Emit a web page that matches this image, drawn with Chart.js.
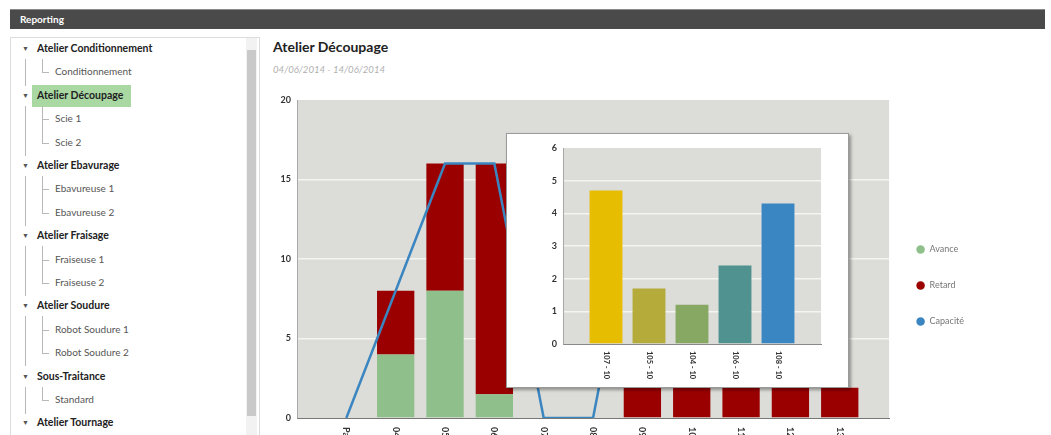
<!DOCTYPE html>
<html>
<head>
<meta charset="utf-8">
<script src="https://cdn.jsdelivr.net/npm/chart.js@4.4.1/dist/chart.umd.min.js"></script>
<style>
  html, body { margin: 0; padding: 0; width: 1051px; height: 435px; overflow: hidden; background: #fff; font-family: Lato, sans-serif; }
  .abs { position: absolute; }
  #header { left: 10px; right: 6px; top: 9px; height: 19px; background: #4a4a4a; border-top: 1px solid #8a8a8a; }
  #header span { position: absolute; left: 10px; top: 3px; color: #fff; font-weight: bold; font-size: 10px; }
  #panel { left: 10px; top: 37px; width: 248px; height: 420px; border: 1px solid #dcdcdc; background: #fff; }
  #scroll { left: 246px; top: 38px; width: 11px; height: 400px; background: #f2f2f2; }
  #thumb { left: 247px; top: 50px; width: 9px; height: 366px; background: #c9c9c9; }
  .grp { position: absolute; left: 37px; font-size: 10.5px; font-weight: bold; color: #222; white-space: nowrap; }
  .itm { position: absolute; left: 55px; font-size: 10px; color: #555; white-space: nowrap; }
  .tri { position: absolute; left: 22px; font-size: 7px; color: #555; }
  .vl { position: absolute; width: 1px; background: #b8b8b8; }
  .hl { position: absolute; height: 1px; background: #b8b8b8; }
  #sel { left: 32px; top: 85px; width: 99px; height: 22px; background: #a9d8a2; }
  #title { left: 273px; top: 38px; font-size: 14px; font-weight: bold; color: #222; }
  #dates { left: 273px; top: 64px; font-size: 9.6px; font-style: italic; color: #b0b0b0; }
  #main { left: 262px; top: 88px; }
  #popup { left: 506px; top: 133px; width: 343px; height: 255px; box-sizing: border-box; border: 1px solid #9a9a9a; background: #fff; box-shadow: 2px 2px 3px rgba(0,0,0,0.35); }
</style>
</head>
<body>
<div id="header" class="abs"><span>Reporting</span></div>
<div id="panel" class="abs"></div>
<div id="scroll" class="abs"></div>
<div id="thumb" class="abs"></div>
<div id="sel" class="abs"></div>
<div id="tree"></div>
<div id="title" class="abs">Atelier Découpage</div>
<div id="dates" class="abs">04/06/2014 - 14/06/2014</div>
<div id="main" class="abs"><canvas id="mainChart" width="712" height="347"></canvas></div>
<div id="popup" class="abs"><canvas id="popChart" width="341" height="253"></canvas></div>

<script>
// tree on the left
const groups = [
  ['Atelier Conditionnement', ['Conditionnement']],
  ['Atelier Découpage', ['Scie 1', 'Scie 2']],
  ['Atelier Ebavurage', ['Ebavureuse 1', 'Ebavureuse 2']],
  ['Atelier Fraisage', ['Fraiseuse 1', 'Fraiseuse 2']],
  ['Atelier Soudure', ['Robot Soudure 1', 'Robot Soudure 2']],
  ['Sous-Traitance', ['Standard']],
  ['Atelier Tournage', []]
];

// main chart data
const days = ['Passé', '04', '05', '06', '07', '08', '09', '10', '11', '12', '13'];
const avance = [0, 4, 8, 1.5, 0, 0, 0, 0, 0, 0, 0];
const retard = [0, 4, 8, 14.5, 0, 0, 1.9, 1.9, 1.9, 1.9, 1.9];
const capacite = [0, 8, 16, 16, 0, 0, 16, 16, 16, 16, 16];
const mainTicks = [0, 5, 10, 15, 20];

// popup chart data
const popLabels = ['107 - 10', '105 - 10', '104 - 10', '106 - 10', '108 - 10'];
const popValues = [4.7, 1.7, 1.2, 2.4, 4.3];
const popTicks = [0, 1, 2, 3, 4, 5, 6];
const popColors = ['#e6bd00', '#b4ab3b', '#86a862', '#4f9290', '#3a86c3'];

// build tree
(function () {
  const tree = document.getElementById('tree');
  let y = 50;
  const step = 23.4;
  groups.forEach(function (g) {
    const gy = y;
    tree.insertAdjacentHTML('beforeend',
      '<div class="tri" style="top:' + (gy - 6) + 'px">&#9660;</div>' +
      '<div class="grp" style="top:' + (gy - 8) + 'px">' + g[0] + '</div>');
    y += step;
    g[1].forEach(function (c) {
      tree.insertAdjacentHTML('beforeend',
        '<div class="hl" style="left:42px;width:7px;top:' + Math.round(y - 1) + 'px"></div>' +
        '<div class="itm" style="top:' + (y - 8) + 'px">' + c + '</div>');
      y += step;
    });
    if (g[1].length) {
      tree.insertAdjacentHTML('beforeend',
        '<div class="vl" style="left:42px;top:' + Math.round(gy + 9) + 'px;height:' + Math.round(y - step - gy - 10) + 'px"></div>' +
        '<div class="vl" style="left:25px;top:' + Math.round(gy + 9) + 'px;height:' + Math.round(y - gy - 20) + 'px"></div>');
    }
  });
})();

Chart.defaults.font.family = 'Lato, sans-serif';
Chart.defaults.animation = false;

const plotBg = {
  id: 'plotBg',
  beforeDraw(chart, args, opts) {
    const a = chart.chartArea;
    chart.ctx.save();
    chart.ctx.fillStyle = opts.color;
    chart.ctx.fillRect(a.left, a.top, a.right - a.left, a.bottom - a.top);
    chart.ctx.restore();
  }
};

// x labels rotated clockwise (read top to bottom)
const downLabels = {
  id: 'downLabels',
  afterDraw(chart, args, opts) {
    const scale = chart.scales.x;
    const ctx = chart.ctx;
    ctx.save();
    ctx.font = opts.font;
    ctx.fillStyle = opts.color;
    ctx.textAlign = 'left';
    ctx.textBaseline = 'middle';
    opts.labels.forEach(function (lab, i) {
      ctx.save();
      ctx.translate(scale.getPixelForValue(i), scale.top + opts.offset);
      ctx.rotate(Math.PI / 2);
      ctx.fillText(lab, 0, 0);
      ctx.restore();
    });
    ctx.restore();
  }
};

const gridNoEnds = (lo, hi) => (c) => (c.tick.value === lo || c.tick.value === hi) ? 'rgba(0,0,0,0)' : '#f4f4f2';

new Chart(document.getElementById('mainChart'), {
  type: 'bar',
  data: {
    datasets: [
      { label: 'Avance', data: avance.map((v, i) => ({ x: i, y: v })), backgroundColor: '#8fc08b', order: 1,
        categoryPercentage: 0.84, barPercentage: 0.9 },
      { label: 'Retard', data: retard.map((v, i) => ({ x: i, y: v })), backgroundColor: '#9a0000', order: 2,
        categoryPercentage: 0.84, barPercentage: 0.9 },
      { type: 'line', label: 'Capacité', data: capacite.map((v, i) => ({ x: i, y: v })), borderColor: '#3b86c0',
        backgroundColor: '#3b86c0', borderWidth: 2.5, pointRadius: 0, tension: 0, fill: false, order: 0 }
    ]
  },
  options: {
    responsive: false,
    layout: { padding: { top: 12 } },
    scales: {
      x: {
        type: 'linear', min: -1, max: days.length, offset: false, stacked: true,
        grid: { display: false },
        border: { display: true, color: '#777', width: 1 },
        ticks: { display: false },
        afterFit(s) { s.height = 17; }
      },
      y: {
        min: 0, max: 20, stacked: true,
        afterBuildTicks(s) { s.ticks = mainTicks.map(v => ({ value: v })); },
        grid: { color: gridNoEnds(0, 20), lineWidth: 1.5, drawTicks: false },
        border: { display: true, color: '#a8a8a8', width: 1 },
        ticks: { padding: 6, color: '#333', font: { size: 9, weight: 'bold' } },
        afterFit(s) { s.width = 35; }
      }
    },
    plugins: {
      tooltip: { enabled: false },
      plotBg: { color: '#dcdcd8' },
      downLabels: { labels: days, font: 'bold 9px Lato', color: '#333', offset: 9 },
      legend: {
        position: 'right',
        title: { display: true, text: '', font: { size: 10 }, padding: { top: 24, bottom: 0 } },
        labels: {
          usePointStyle: true, pointStyle: 'circle', boxHeight: 6, padding: 27,
          color: '#777', font: { size: 9 },
          sort: (a, b) => a.datasetIndex - b.datasetIndex,
          generateLabels(chart) {
            return Chart.defaults.plugins.legend.labels.generateLabels(chart).map(l => {
              l.lineWidth = 0; l.strokeStyle = l.fillStyle; return l;
            });
          }
        }
      }
    }
  },
  plugins: [plotBg, downLabels]
});

new Chart(document.getElementById('popChart'), {
  type: 'bar',
  data: {
    datasets: [
      { label: 'Charge', data: popValues.map((v, i) => ({ x: i, y: v })), backgroundColor: popColors,
        categoryPercentage: 0.85, barPercentage: 0.9 }
    ]
  },
  options: {
    responsive: false,
    layout: { padding: { top: 14, right: 27 } },
    scales: {
      x: {
        type: 'linear', min: -1, max: popLabels.length, offset: false,
        grid: { display: false },
        border: { display: true, color: '#888', width: 1 },
        ticks: { display: false },
        afterFit(s) { s.height = 43; }
      },
      y: {
        min: 0, max: 6,
        afterBuildTicks(s) { s.ticks = popTicks.map(v => ({ value: v })); },
        grid: { color: gridNoEnds(0, 6), lineWidth: 1.5, drawTicks: false },
        border: { display: true, color: '#a8a8a8', width: 1 },
        ticks: { padding: 6, color: '#333', font: { size: 9, weight: 'bold' } },
        afterFit(s) { s.width = 56; }
      }
    },
    plugins: {
      tooltip: { enabled: false },
      legend: { display: false },
      plotBg: { color: '#dcdcd8' },
      downLabels: { labels: popLabels, font: 'bold 7.5px Lato', color: '#333', offset: 7 }
    }
  },
  plugins: [plotBg, downLabels]
});
</script>
</body>
</html>
